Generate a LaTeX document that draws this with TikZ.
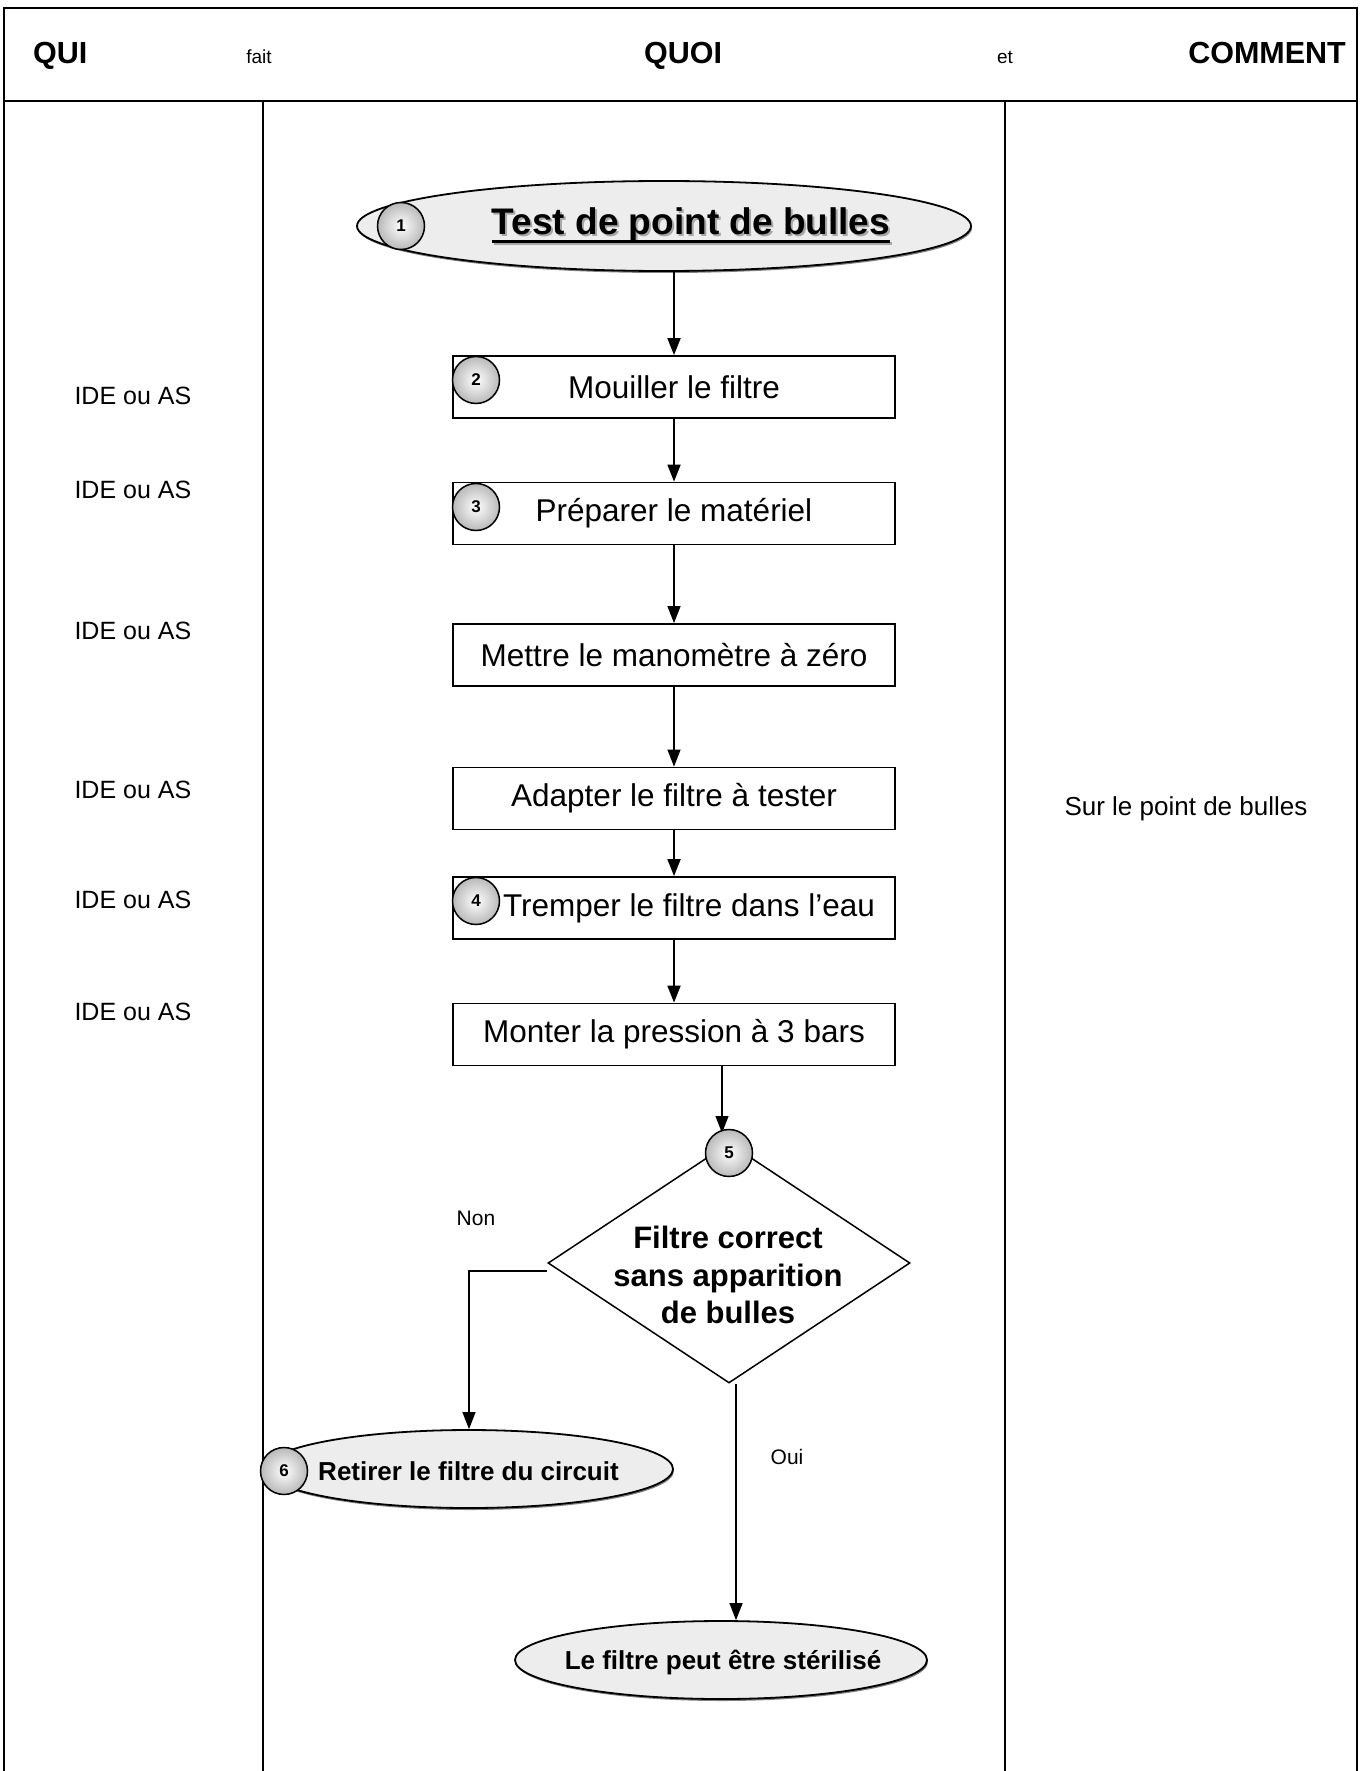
\documentclass[tikz,border=0pt]{standalone}
\usepackage{fontspec}
\setmainfont{Liberation Sans}
\usetikzlibrary{shapes.geometric,arrows.meta,shadows}
\newcommand{\fsz}[2]{\fontsize{#1}{#2}\selectfont}
\newcommand{\shtxt}[1]{\makebox[0pt][l]{\hspace{2pt}\raisebox{-2pt}{\color{gray!70}#1}}#1}
\begin{document}
\begin{tikzpicture}[x=1pt,y=-1pt,
  frame/.style={line width=2.4pt},
  stepbox/.style={draw, line width=1.8pt, rectangle, minimum width=442pt, minimum height=62pt, inner sep=0pt, font=\fsz{31.5}{36}},
  num/.style={circle, draw, line width=1.5pt, minimum size=47pt, inner sep=0pt, shading=radial, inner color=white, outer color=gray!55, font=\bfseries\fsz{17}{20}},
  term/.style={ellipse, draw, line width=1.8pt, fill=gray!14, inner sep=0pt, drop shadow={shadow xshift=1pt, shadow yshift=-2pt, opacity=0.7, fill=black!70}},
  arr/.style={line width=1.8pt, -{Triangle[length=17pt,width=13pt]}},
  arrthin/.style={line width=1.3pt, -{Triangle[length=17pt,width=13pt]}},
  who/.style={anchor=west, font=\fsz{25}{30}},
  lbl/.style={font=\fsz{21}{25}},
  hbig/.style={font=\bfseries\fsz{30.5}{34}, inner sep=0pt},
  hsmall/.style={font=\fsz{19}{22}, inner sep=0pt}]
\useasboundingbox (0,0) rectangle (1360,1771);
\fill[white] (0,0) rectangle (1360,1771);
% frame
\draw[frame] (4,1771) -- (4,8) -- (1357,8) -- (1357,1771);
\draw[frame] (4,101) -- (1357,101);
\draw[frame] (263,101) -- (263,1771);
\draw[frame] (1005,101) -- (1005,1771);
% headers
\node[hbig, anchor=base west] (hqui) at (33,64) {QUI};
\node[hsmall, anchor=base] (hfait) at (259,64) {fait};
\node[hbig, anchor=base west] (hquoi) at (644,64) {QUOI};
\node[hsmall, anchor=base] (het) at (1005,64) {et};
\node[hbig, anchor=base east] (hcomm) at (1346,64) {COMMENT};
% title
\node[term, minimum width=614pt, minimum height=90pt] (e1) at (664,226) {};
\node[inner sep=0pt, font=\bfseries\fsz{37}{40}] (t1) at (691,226) {\shtxt{Test de point de bulles}};
\draw[gray!70, line width=3.5pt] ([shift={(2pt,-9pt)}]t1.base west) -- ([shift={(2pt,-9pt)}]t1.base east);
\draw[line width=3.5pt] ([yshift=-7pt]t1.base west) -- ([yshift=-7pt]t1.base east);
\node[num] (c1) at (401,226) {1};
% steps
\node[stepbox] (b2) at (674,387) {Mouiller le filtre};
\node[stepbox] (b3) at (674,513.5) {Préparer le matériel};
\node[stepbox] (bm) at (674,655) {Mettre le manomètre à zéro};
\node[stepbox] (ba) at (674,798.5) {Adapter le filtre à tester};
\node[stepbox] (bt) at (674,908) {\hspace*{30pt}Tremper le filtre dans l’eau};
\node[stepbox] (bp) at (674,1034.5) {Monter la pression à 3 bars};
\node[num] (c2) at (476,380) {2};
\node[num] (c3) at (476,507) {3};
\node[num] (c4) at (476,901) {4};
% arrows
\draw[arr] (e1.south -| b2.north) -- (b2.north);
\draw[arr] (b2.south) -- (b3.north);
\draw[arrthin] (b3.south) -- (bm.north);
\draw[arrthin] (bm.south) -- (ba.north);
\draw[arr] (ba.south) -- (bt.north);
\draw[arr] (bt.south) -- (bp.north);
\coordinate (p5) at (722,1133);
\draw[arrthin] (bp.south -| p5) -- (p5);
% decision
\node[diamond, draw, line width=1.5pt, minimum width=362pt, minimum height=240pt, inner sep=0pt] (dec) at (729,1263) {};
\node[num] (c5) at (729,1153) {5};
\node[font=\bfseries\fsz{31}{37.5}, align=center] (tdec) at (728,1275) {Filtre correct\\sans apparition\\de bulles};
% Non branch
\node[term, minimum width=408pt, minimum height=78pt] (e6) at (469,1469) {};
\node[font=\bfseries\fsz{26}{30}] (t6) at (468.5,1471) {Retirer le filtre du circuit};
\node[num] (c6) at (284,1471) {6};
\draw[arrthin] ([yshift=-8pt]dec.west) -| (e6.north);
\node[lbl] (lnon) at (476,1218) {Non};
% Oui branch
\node[term, minimum width=412pt, minimum height=78pt] (eF) at (721,1660) {};
\node[font=\bfseries\fsz{26}{30}] (tF) at (723,1662) {Le filtre peut être stérilisé};
\draw[arrthin] ([xshift=7pt]dec.south) -- ([xshift=7pt]dec.south |- eF.north);
\node[lbl] (loui) at (787,1457) {Oui};
% who
\node[who] (q2) at (71,396) {IDE ou AS};
\node[who] (q3) at (71,490) {IDE ou AS};
\node[who] (q4) at (71,631) {IDE ou AS};
\node[who] (q5) at (71,790) {IDE ou AS};
\node[who] (q6) at (71,900) {IDE ou AS};
\node[who] (q7) at (71,1012) {IDE ou AS};
% how
\node[who, font=\fsz{26}{30}] (hw) at (1061,809) {Sur le point de bulles};
\end{tikzpicture}
\end{document}
